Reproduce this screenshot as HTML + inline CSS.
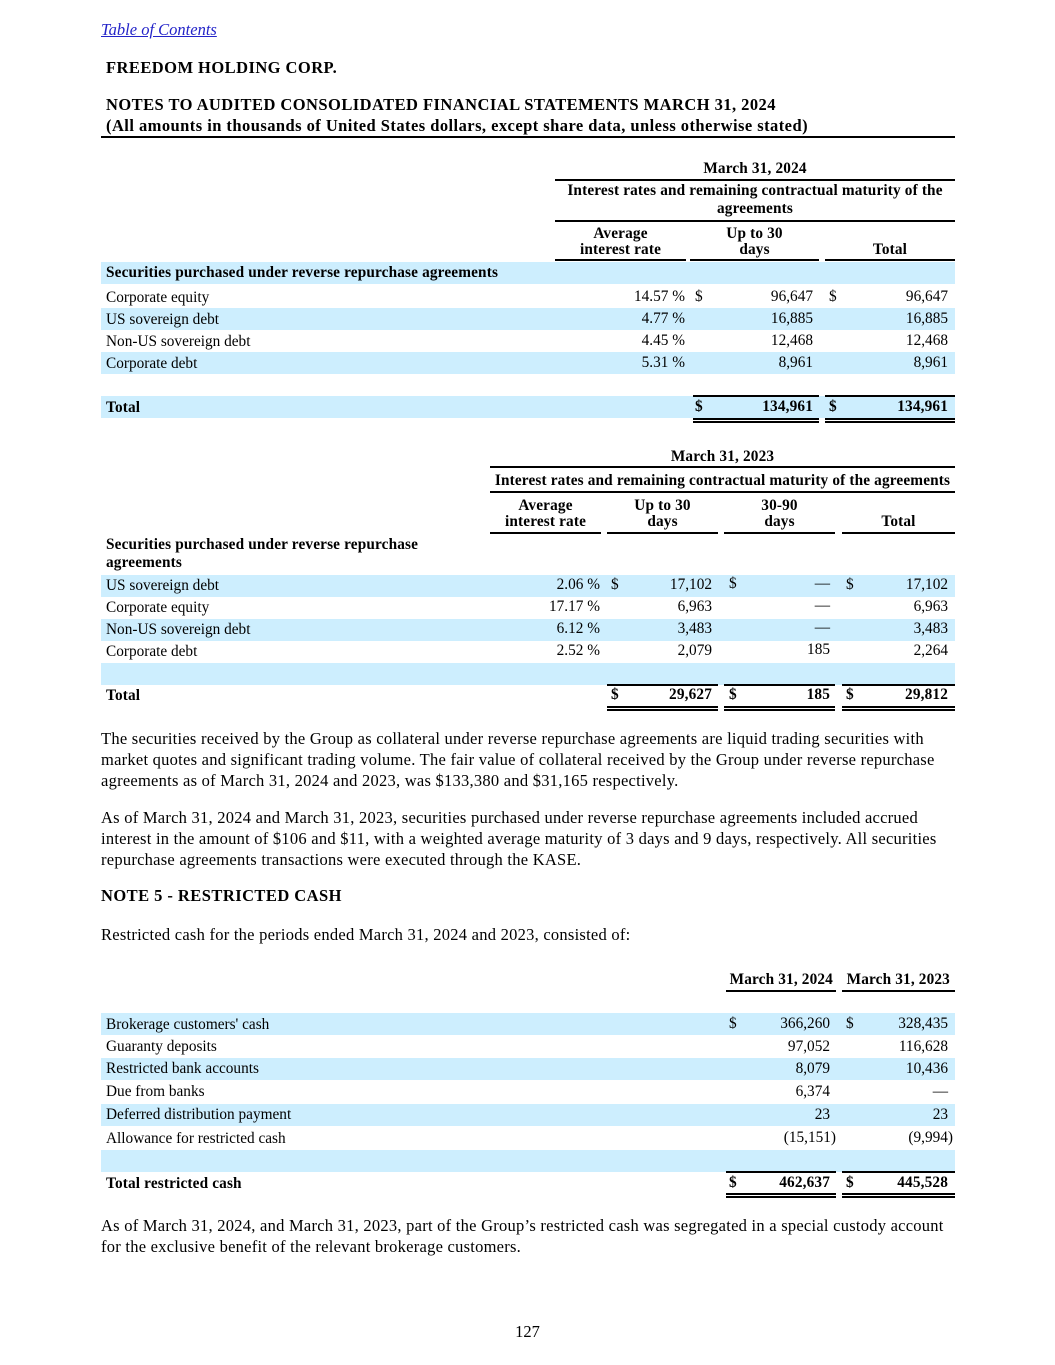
<!DOCTYPE html>
<html><head><meta charset="utf-8">
<style>
body{margin:0;background:#fff;}
#p{position:relative;width:1055px;height:1365px;overflow:hidden;font-family:"Liberation Serif",serif;color:#000;}
#p div{position:absolute;white-space:nowrap;line-height:20px;}
.t{font-size:15.3px;}
.t.b{letter-spacing:0.15px;}
.b{font-weight:bold;}
.bg{background:#cdeefe;height:22px;}
.ln{background:#000;height:1.5px;}
.c{text-align:center;}
.txt{font-size:16.5px;letter-spacing:0.25px;}
.h{font-size:16.5px;letter-spacing:0.45px;font-weight:bold;}
</style></head><body><div id="p">
<div class="txt" style="left:101px;top:20px;color:#2323c8;font-style:italic;text-decoration:underline;letter-spacing:0;">Table of Contents</div>
<div class="h" style="left:106px;top:58px;">FREEDOM HOLDING CORP.</div>
<div class="h" style="left:106px;top:95px;">NOTES TO AUDITED CONSOLIDATED FINANCIAL STATEMENTS MARCH 31, 2024</div>
<div class="h" style="left:106px;top:116px;">(All amounts in thousands of United States dollars, except share data, unless otherwise stated)</div>
<div class="ln" style="left:101px;top:136px;width:854px;"></div>

<!-- Table 1 -->
<div class="t b c" style="left:555px;width:400px;top:159px;">March 31, 2024</div>
<div class="ln" style="left:555px;top:179px;width:400px;"></div>
<div class="t b c" style="left:555px;width:400px;top:182px;line-height:18px;white-space:normal;">Interest rates and remaining contractual maturity of the agreements</div>
<div class="ln" style="left:555px;top:220px;width:400px;"></div>
<div class="t b c" style="left:555px;width:131px;top:226px;line-height:16px;">Average<br>interest rate</div>
<div class="t b c" style="left:690px;width:129px;top:226px;line-height:16px;">Up to 30<br>days</div>
<div class="t b c" style="left:825px;width:130px;top:240px;">Total</div>
<div class="ln" style="left:555px;top:259px;width:131px;"></div>
<div class="ln" style="left:690px;top:259px;width:129px;"></div>
<div class="ln" style="left:825px;top:259px;width:130px;"></div>

<div class="bg" style="left:101px;top:262px;width:854px;"></div>
<div class="bg" style="left:101px;top:308px;width:854px;"></div>
<div class="bg" style="left:101px;top:352px;width:854px;"></div>
<div class="bg" style="left:101px;top:396px;width:854px;"></div>
<div class="t b" style="left:106px;top:263px;">Securities purchased under reverse repurchase agreements</div>
<div class="t" style="left:106px;top:288px;">Corporate equity</div>
<div class="t" style="left:106px;top:310px;">US sovereign debt</div>
<div class="t" style="left:106px;top:332px;">Non-US sovereign debt</div>
<div class="t" style="left:106px;top:354px;">Corporate debt</div>
<div class="t b" style="left:106px;top:398px;">Total</div>

<div class="t" style="right:370px;top:287px;">14.57 %</div>
<div class="t" style="right:370px;top:309px;">4.77 %</div>
<div class="t" style="right:370px;top:331px;">4.45 %</div>
<div class="t" style="right:370px;top:353px;">5.31 %</div>
<div class="t" style="left:695px;top:287px;">$</div>
<div class="t" style="right:242px;top:287px;">96,647</div>
<div class="t" style="right:242px;top:309px;">16,885</div>
<div class="t" style="right:242px;top:331px;">12,468</div>
<div class="t" style="right:242px;top:353px;">8,961</div>
<div class="t" style="left:829px;top:287px;">$</div>
<div class="t" style="right:107px;top:287px;">96,647</div>
<div class="t" style="right:107px;top:309px;">16,885</div>
<div class="t" style="right:107px;top:331px;">12,468</div>
<div class="t" style="right:107px;top:353px;">8,961</div>
<div class="ln" style="left:693px;top:395px;width:126px;"></div>
<div class="ln" style="left:825px;top:395px;width:130px;"></div>
<div class="t b" style="left:695px;top:397px;">$</div>
<div class="t b" style="right:242px;top:397px;">134,961</div>
<div class="t b" style="left:829px;top:397px;">$</div>
<div class="t b" style="right:107px;top:397px;">134,961</div>
<div class="ln" style="left:693px;top:418px;width:126px;"></div>
<div class="ln" style="left:693px;top:421px;width:126px;"></div>
<div class="ln" style="left:825px;top:418px;width:130px;"></div>
<div class="ln" style="left:825px;top:421px;width:130px;"></div>

<!-- Table 2 -->
<div class="t b c" style="left:490px;width:465px;top:447px;">March 31, 2023</div>
<div class="ln" style="left:490px;top:466px;width:465px;"></div>
<div class="t b c" style="left:490px;width:465px;top:471px;">Interest rates and remaining contractual maturity of the agreements</div>
<div class="ln" style="left:490px;top:491px;width:465px;"></div>
<div class="t b c" style="left:490px;width:111px;top:498px;line-height:16px;">Average<br>interest rate</div>
<div class="t b c" style="left:607px;width:111px;top:498px;line-height:16px;">Up to 30<br>days</div>
<div class="t b c" style="left:724px;width:111px;top:498px;line-height:16px;">30-90<br>days</div>
<div class="t b c" style="left:842px;width:113px;top:512px;">Total</div>
<div class="ln" style="left:490px;top:532px;width:111px;"></div>
<div class="ln" style="left:607px;top:532px;width:111px;"></div>
<div class="ln" style="left:724px;top:532px;width:111px;"></div>
<div class="ln" style="left:842px;top:532px;width:113px;"></div>
<div class="t b" style="left:106px;top:536px;line-height:18px;">Securities purchased under reverse repurchase<br>agreements</div>

<div class="bg" style="left:101px;top:575px;width:854px;"></div>
<div class="bg" style="left:101px;top:619px;width:854px;"></div>
<div class="bg" style="left:101px;top:663px;width:854px;"></div>
<div class="t" style="left:106px;top:576px;">US sovereign debt</div>
<div class="t" style="left:106px;top:598px;">Corporate equity</div>
<div class="t" style="left:106px;top:620px;">Non-US sovereign debt</div>
<div class="t" style="left:106px;top:642px;">Corporate debt</div>
<div class="t b" style="left:106px;top:686px;">Total</div>

<div class="t" style="right:455px;top:575px;">2.06 %</div>
<div class="t" style="right:455px;top:597px;">17.17 %</div>
<div class="t" style="right:455px;top:619px;">6.12 %</div>
<div class="t" style="right:455px;top:641px;">2.52 %</div>
<div class="t" style="left:611px;top:575px;">$</div>
<div class="t" style="right:343px;top:575px;">17,102</div>
<div class="t" style="right:343px;top:597px;">6,963</div>
<div class="t" style="right:343px;top:619px;">3,483</div>
<div class="t" style="right:343px;top:641px;">2,079</div>
<div class="t" style="left:729px;top:574px;">$</div>
<div class="t" style="right:225px;top:574px;">—</div>
<div class="t" style="right:225px;top:596px;">—</div>
<div class="t" style="right:225px;top:618px;">—</div>
<div class="t" style="right:225px;top:640px;">185</div>
<div class="t" style="left:846px;top:575px;">$</div>
<div class="t" style="right:107px;top:575px;">17,102</div>
<div class="t" style="right:107px;top:597px;">6,963</div>
<div class="t" style="right:107px;top:619px;">3,483</div>
<div class="t" style="right:107px;top:641px;">2,264</div>
<div class="ln" style="left:607px;top:684px;width:111px;"></div>
<div class="ln" style="left:724px;top:684px;width:111px;"></div>
<div class="ln" style="left:842px;top:684px;width:113px;"></div>
<div class="t b" style="left:611px;top:685px;">$</div>
<div class="t b" style="right:343px;top:685px;">29,627</div>
<div class="t b" style="left:729px;top:685px;">$</div>
<div class="t b" style="right:225px;top:685px;">185</div>
<div class="t b" style="left:846px;top:685px;">$</div>
<div class="t b" style="right:107px;top:685px;">29,812</div>
<div class="ln" style="left:607px;top:706px;width:111px;"></div>
<div class="ln" style="left:607px;top:709px;width:111px;"></div>
<div class="ln" style="left:724px;top:706px;width:111px;"></div>
<div class="ln" style="left:724px;top:709px;width:111px;"></div>
<div class="ln" style="left:842px;top:706px;width:113px;"></div>
<div class="ln" style="left:842px;top:709px;width:113px;"></div>

<!-- Paragraphs -->
<div class="txt" style="left:101px;top:728px;line-height:21px;">The securities received by the Group as collateral under reverse repurchase agreements are liquid trading securities with<br>market quotes and significant trading volume. The fair value of collateral received by the Group under reverse repurchase<br>agreements as of March 31, 2024 and 2023, was $133,380 and $31,165 respectively.</div>
<div class="txt" style="left:101px;top:807px;line-height:21px;">As of March 31, 2024 and March 31, 2023, securities purchased under reverse repurchase agreements included accrued<br>interest in the amount of $106 and $11, with a weighted average maturity of 3 days and 9 days, respectively. All securities<br>repurchase agreements transactions were executed through the KASE.</div>
<div class="h" style="left:101px;top:886px;">NOTE 5 - RESTRICTED CASH</div>
<div class="txt" style="left:101px;top:925px;">Restricted cash for the periods ended March 31, 2024 and 2023, consisted of:</div>

<!-- Table 3 -->
<div class="t b" style="right:222px;top:970px;">March 31, 2024</div>
<div class="t b" style="right:105px;top:970px;">March 31, 2023</div>
<div class="ln" style="left:726px;top:990px;width:110px;"></div>
<div class="ln" style="left:842px;top:990px;width:113px;"></div>
<div class="bg" style="left:101px;top:1013px;width:854px;"></div>
<div class="bg" style="left:101px;top:1058px;width:854px;"></div>
<div class="bg" style="left:101px;top:1104px;width:854px;"></div>
<div class="bg" style="left:101px;top:1150px;width:854px;"></div>
<div class="t" style="left:106px;top:1015px;">Brokerage customers' cash</div>
<div class="t" style="left:106px;top:1037px;">Guaranty deposits</div>
<div class="t" style="left:106px;top:1059px;">Restricted bank accounts</div>
<div class="t" style="left:106px;top:1082px;">Due from banks</div>
<div class="t" style="left:106px;top:1105px;">Deferred distribution payment</div>
<div class="t" style="left:106px;top:1129px;">Allowance for restricted cash</div>
<div class="t b" style="left:106px;top:1174px;">Total restricted cash</div>
<div class="t" style="left:729px;top:1014px;">$</div>
<div class="t" style="right:225px;top:1014px;">366,260</div>
<div class="t" style="right:225px;top:1037px;">97,052</div>
<div class="t" style="right:225px;top:1059px;">8,079</div>
<div class="t" style="right:225px;top:1082px;">6,374</div>
<div class="t" style="right:225px;top:1105px;">23</div>
<div class="t" style="right:219px;top:1128px;">(15,151)</div>
<div class="t" style="left:846px;top:1014px;">$</div>
<div class="t" style="right:107px;top:1014px;">328,435</div>
<div class="t" style="right:107px;top:1037px;">116,628</div>
<div class="t" style="right:107px;top:1059px;">10,436</div>
<div class="t" style="right:107px;top:1082px;">—</div>
<div class="t" style="right:107px;top:1105px;">23</div>
<div class="t" style="right:102px;top:1128px;">(9,994)</div>
<div class="ln" style="left:726px;top:1171px;width:110px;"></div>
<div class="ln" style="left:842px;top:1171px;width:113px;"></div>
<div class="t b" style="left:729px;top:1173px;">$</div>
<div class="t b" style="right:225px;top:1173px;">462,637</div>
<div class="t b" style="left:846px;top:1173px;">$</div>
<div class="t b" style="right:107px;top:1173px;">445,528</div>
<div class="ln" style="left:726px;top:1193px;width:110px;"></div>
<div class="ln" style="left:726px;top:1196px;width:110px;"></div>
<div class="ln" style="left:842px;top:1193px;width:113px;"></div>
<div class="ln" style="left:842px;top:1196px;width:113px;"></div>

<div class="txt" style="left:101px;top:1215px;line-height:21px;">As of March 31, 2024, and March 31, 2023, part of the Group’s restricted cash was segregated in a special custody account<br>for the exclusive benefit of the relevant brokerage customers.</div>
<div class="txt" style="left:0;width:1055px;text-align:center;top:1322px;letter-spacing:0;">127</div>
</div></body></html>
